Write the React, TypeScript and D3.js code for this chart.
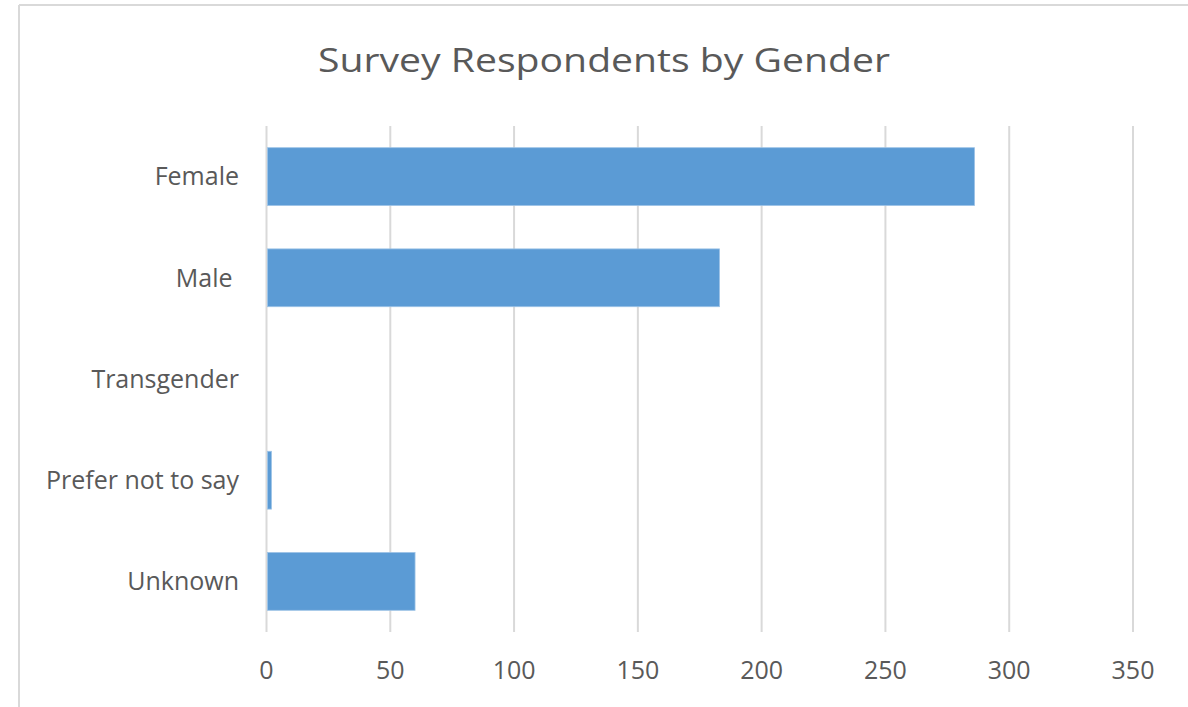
import React from "react";
import * as d3 from "d3";

const categories = ["Female", "Male ", "Transgender", "Prefer not to say", "Unknown"];
const values = [286, 183, 0, 2, 60];
const xTicks = [0, 50, 100, 150, 200, 250, 300, 350];
const title = "Survey Respondents by Gender";

const W = 1188;
const H = 707;
const FONT = "'Open Sans', 'Noto Sans', sans-serif";

export default function App() {
  const plotLeft = 266.5;
  const plotRight = 1133;
  const plotTop = 126;
  const plotBottom = 632;

  const x = d3.scaleLinear().domain([0, 350]).range([plotLeft, plotRight]);
  const y = d3
    .scaleBand<string>()
    .domain(categories)
    .range([plotTop, plotBottom])
    .paddingInner(0.4286)
    .paddingOuter(0.2143);

  return (
    <svg
      width={W}
      height={H}
      style={{ position: "absolute", left: 0, top: 0, background: "#fff" }}
    >
      <rect x={0} y={0} width={W} height={H} fill="#fff" />
      {/* chart border */}
      <line x1={19} y1={5} x2={W} y2={5} stroke="#d9d9d9" strokeWidth={2} />
      <line x1={19} y1={5} x2={19} y2={H} stroke="#d9d9d9" strokeWidth={2} />

      <text
        x={604}
        y={72}
        textAnchor="middle"
        fontFamily={FONT}
        fontSize={32}
        fill="#595959"
        textLength={572}
        lengthAdjust="spacingAndGlyphs"
      >
        {title}
      </text>

      {/* gridlines */}
      {xTicks.map((t) => (
        <line
          key={"g" + t}
          x1={x(t)}
          x2={x(t)}
          y1={plotTop}
          y2={plotBottom}
          stroke="#d9d9d9"
          strokeWidth={2}
        />
      ))}

      {/* bars */}
      {categories.map((c, i) =>
        values[i] > 0 ? (
          <rect
            key={"b" + c}
            x={x(0) + 1}
            y={y(c)!}
            width={x(values[i]) - x(0) - 1}
            height={y.bandwidth()}
            fill="#5b9bd5"
            stroke="#9dc3e6"
            strokeWidth={0.8}
          />
        ) : null
      )}

      {/* category labels */}
      {categories.map((c) => (
        <text
          key={"l" + c}
          x={239}
          y={y(c)! + y.bandwidth() / 2}
          dy="0.35em"
          textAnchor="end"
          fontFamily={FONT}
          fontSize={25}
          fill="#595959"
          style={{ whiteSpace: "pre" }}
        >
          {c}
        </text>
      ))}

      {/* tick labels */}
      {xTicks.map((t) => (
        <text
          key={"t" + t}
          x={x(t)}
          y={670}
          dy="0.35em"
          textAnchor="middle"
          fontFamily={FONT}
          fontSize={25}
          fill="#595959"
        >
          {t}
        </text>
      ))}
    </svg>
  );
}
